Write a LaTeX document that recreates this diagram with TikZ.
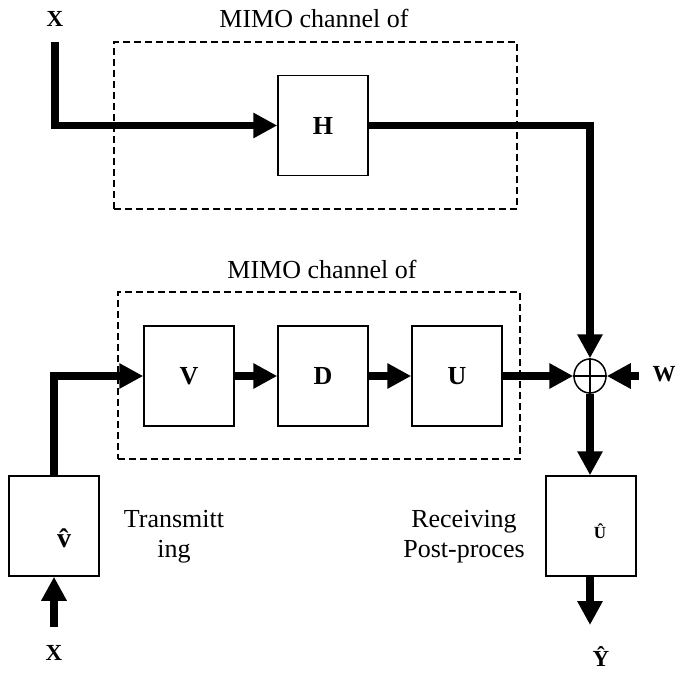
\documentclass[tikz,border=0pt]{standalone}
\usepackage{fontspec}
\setmainfont{Liberation Serif}
\usetikzlibrary{arrows.meta,shapes.geometric}
\begin{document}
\begin{tikzpicture}[x=1pt,y=-1pt,
  blk/.style={draw, line width=1.5pt, minimum width=90pt, minimum height=100pt, inner sep=0pt, font=\fontsize{26}{30}\selectfont\bfseries},
  flow/.style={line width=7.5pt, -{Triangle[length=24pt,width=24pt]}},
  frame/.style={draw, line width=1.2pt, dash pattern=on 7pt off 4pt, inner sep=0pt},
  lbl/.style={font=\fontsize{26}{30}\selectfont, align=center, inner sep=0pt},
  io/.style={font=\fontsize{23}{26}\selectfont\bfseries, inner sep=0pt}]
\useasboundingbox (0,0) rectangle (677,672);
% dashed channel frames
\node[frame, minimum width=403pt, minimum height=167pt] (ch1) at (315.5,125.5) {};
\node[frame, minimum width=402pt, minimum height=167pt] (ch2) at (319,375.5) {};
\node[lbl] (t1) at (314,18) {MIMO channel of};
\node[lbl] (t2) at (322,269) {MIMO channel of};
% blocks
\node[blk] (H) at (323,125.5) {H};
\node[blk] (V) at (189,376) {V};
\node[blk] (D) at (323,376) {D};
\node[blk] (U) at (457,376) {U};
\node[blk] (tx) at (54,526) {};
\node[blk] (rx) at (591,526) {};
\node[font=\fontsize{28}{30}\selectfont\bfseries, inner sep=0pt] (vh) at (64,538) {\^v};
\node[font=\fontsize{17}{18}\selectfont\bfseries, inner sep=0pt] (uh) at (600,531) {\^U};
% summing junction
\node[draw, ellipse, line width=1.5pt, minimum width=32pt, minimum height=34pt, inner sep=0pt] (sum) at (590,376) {};
\draw[line width=1.5pt] (sum.north) -- (sum.south) (sum.west) -- (sum.east);
% labels
\node[io] (xin) at (55,19) {X};
\node[io] (W) at (664,374) {W};
\node[io] (xbot) at (54,653) {X};
\node[io] (yhat) at (601,657) {\^Y};
\node[lbl] (txl) at (174,537) {Transmitt\\ing};
\node[lbl] (rxl) at (464,537) {Receiving\\Post-proces};
% connectors
\coordinate (xs) at (55,42);
\coordinate (ws) at (639,376);
\coordinate (xb) at (54,627);
\coordinate (ye) at (590,625);
\draw[flow] (xs) |- (H.west);
\draw[flow] (H.east) -| (sum.north);
\draw[flow] (xb) -- (tx.south);
\draw[flow] (tx.north) |- (V.west);
\draw[flow] (V) -- (D);
\draw[flow] (D) -- (U);
\draw[flow] (U) -- (sum);
\draw[flow] (ws) -- (sum.east);
\draw[flow] (sum.south) -- (rx.north -| sum.south);
\draw[flow] (rx.south -| ye) -- (ye);
\end{tikzpicture}
\end{document}
